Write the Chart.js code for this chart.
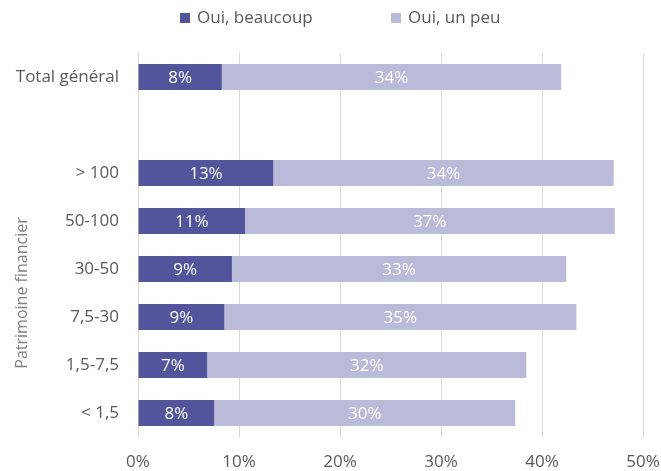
<!DOCTYPE html>
<html><head><meta charset="utf-8">
<script src="https://cdn.jsdelivr.net/npm/chart.js@4/dist/chart.umd.min.js"></script>
<style>html,body{margin:0;padding:0;background:#fff}#wrap{width:661px;height:471px}</style>
</head><body><div id="wrap"><canvas id="c" width="661" height="471"></canvas></div>
<script>
const categories = ["Total général", "", "> 100", "50-100", "30-50", "7,5-30", "1,5-7,5", "< 1,5"];
const beaucoup = [8.3, null, 13.4, 10.6, 9.3, 8.55, 6.85, 7.55];
const unPeu = [33.6, null, 33.7, 36.6, 33.1, 34.85, 31.6, 29.8];
const xTicks = [0, 10, 20, 30, 40, 50];
const seriesNames = ["Oui, beaucoup", "Oui, un peu"];
const seriesColors = ["#53559c", "#babad9"];
const axisTitle = "Patrimoine financier";

const FONT = "'Open Sans', sans-serif";
const FS = 17;
const labelPlugin = {
  id: 'segLabels',
  afterDatasetsDraw(chart) {
    const ctx = chart.ctx;
    ctx.save();
    ctx.fillStyle = '#ffffff';
    ctx.font = FS + "px " + FONT;
    ctx.textAlign = 'center';
    ctx.textBaseline = 'middle';
    chart.data.datasets.forEach((ds, i) => {
      chart.getDatasetMeta(i).data.forEach((bar, j) => {
        const v = ds.data[j];
        if (v == null) return;
        const cx = (bar.x + bar.base) / 2;
        ctx.fillText(Math.round(v) + '%', cx, bar.y + 1);
      });
    });
    ctx.restore();
  }
};
const titlePlugin = {
  id: 'yTitle',
  afterDraw(chart) {
    const y = chart.scales.y;
    const top = y.getPixelForValue(2), bot = y.getPixelForValue(7);
    const ctx = chart.ctx;
    ctx.save();
    ctx.translate(22, (top + bot) / 2);
    ctx.rotate(-Math.PI / 2);
    ctx.fillStyle = '#808080';
    ctx.font = "16px " + FONT;
    ctx.textAlign = 'center';
    ctx.textBaseline = 'middle';
    ctx.fillText(axisTitle, 0, 0);
    ctx.restore();
  }
};
const legendPlugin = {
  id: 'customLegend',
  afterDraw(chart) {
    const ctx = chart.ctx;
    ctx.save();
    ctx.font = FS + "px " + FONT;
    ctx.textBaseline = 'middle';
    ctx.textAlign = 'left';
    const starts = [180, 391];
    chart.data.datasets.forEach((ds, i) => {
      const x = starts[i];
      ctx.fillStyle = ds.backgroundColor;
      ctx.fillRect(x, 13, 10, 10);
      ctx.fillStyle = '#595959';
      ctx.fillText(ds.label, x + 17, 18);
    });
    ctx.restore();
  }
};

new Chart(document.getElementById('c'), {
  type: 'bar',
  data: {
    labels: categories,
    datasets: [
      { label: seriesNames[0], data: beaucoup, backgroundColor: seriesColors[0], borderWidth: 0 },
      { label: seriesNames[1], data: unPeu, backgroundColor: seriesColors[1], borderWidth: 0 }
    ]
  },
  options: {
    indexAxis: 'y',
    responsive: false,
    animation: false,
    layout: { padding: { top: 53, right: 0, bottom: 0, left: 0 } },
    datasets: { bar: { barPercentage: 0.54, categoryPercentage: 1.0 } },
    plugins: {
      legend: { display: false },
      tooltip: { enabled: false }
    },
    scales: {
      x: {
        stacked: true, min: 0, max: 50,
        afterBuildTicks(s) { s.ticks = xTicks.map(v => ({ value: v })); },
        afterFit(s) { s.height = 34; s.paddingRight = 18; s.paddingLeft = 0; },
        ticks: { callback: v => v + '%', color: '#595959', font: { family: FONT, size: FS }, padding: 15, maxRotation: 0 },
        grid: { color: '#d9d9d9', drawTicks: false },
        border: { display: false }
      },
      y: {
        stacked: true,
        afterFit(s) { s.width = 138; s.paddingTop = 0; s.paddingBottom = 0; },
        ticks: { color: '#595959', font: { family: FONT, size: FS }, padding: 11 },
        grid: { display: false },
        border: { display: false }
      }
    }
  },
  plugins: [labelPlugin, titlePlugin, legendPlugin]
});
</script></body></html>
